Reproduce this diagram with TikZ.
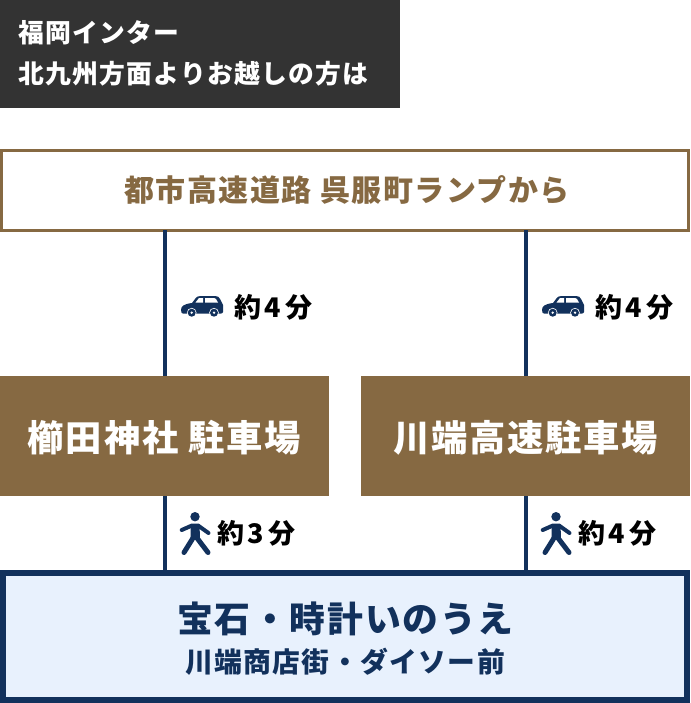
\documentclass[tikz,border=0pt]{standalone}
\usepackage{fontspec}
\setmainfont{Noto Sans CJK JP}
\newfontfamily\jpwide[LetterSpace=5]{Noto Sans CJK JP}
\newfontfamily\jptime[LetterSpace=14]{Noto Sans CJK JP}
\usetikzlibrary{calc,positioning}
\definecolor{navy}{HTML}{12315C}
\definecolor{brown}{HTML}{866942}
\definecolor{pale}{HTML}{E8F1FD}
\definecolor{dark}{HTML}{333333}
\begin{document}
\begin{tikzpicture}[x=1pt,y=-1pt,
  box/.style={inner sep=0pt,outer sep=0pt},
  park/.style={box,fill=brown,minimum width=329pt,minimum height=120pt},
  parkname/.style={inner sep=0pt,text=white,font=\jpwide\bfseries\fontsize{36.3}{44}\selectfont},
  link/.style={draw=navy,line width=4pt,xshift=1pt},
  time/.style={inner sep=0pt,anchor=west,font=\jptime\bfseries\fontsize{27}{32}\selectfont},
  carIcon/.pic={
    \fill[navy] (-21,4) .. controls (-21,0) and (-18,-2) .. (-10,-3) -- (-7,-7) .. controls (-5,-10) and (-3,-10) .. (0,-10)
      -- (13,-10) .. controls (16,-10) and (17,-9) .. (18,-7) -- (21,-1) -- (21,6) .. controls (21,7) and (20,7.5) .. (19,7.5) -- (-19,7.5) .. controls (-20,7.5) and (-21,7) .. (-21,4) -- cycle;
    \fill[white] (-6.5,-3.5) -- (-3,-8) -- (1,-8) -- (1,-3.5) -- cycle (3,-8) -- (12,-8) .. controls (13,-8) and (13,-8) .. (14,-7) -- (16,-3.5) -- (3,-3.5) -- cycle;
    \fill[white] (-10.3,6.7) circle (4.8) (12,6.7) circle (4.8);
    \fill[navy] (-10.3,6.7) circle (4) (12,6.7) circle (4);
    \fill[white] (-10.3,6.7) circle (1.3) (12,6.7) circle (1.3);
  },
  walkIcon/.pic={
    \fill[navy] (0,-17.3) circle (4.7);
    \draw[navy,line width=4pt,line cap=round,line join=round] (-13.3,-4) -- (-3,-8.5) -- (3,-8.5) -- (13.5,-1);
    \fill[navy] (-4.5,-10) -- (4.5,-10) -- (5,5) -- (-4.5,5) -- cycle;
    \draw[navy,line width=5pt,line cap=round,line join=round] (-11,18.5) -- (-2,4) (2,4) -- (13,18.5);
  }]
  \useasboundingbox (0,0) rectangle (690,703);
  % heading
  \node[box,fill=dark,minimum width=400pt,minimum height=108pt] (head) at (200,54) {};
  \node[inner sep=0pt,anchor=west,text=white,font=\jpwide\bfseries\fontsize{25.8}{41}\selectfont,align=left] (headtext) at (18,53) {福岡インター\\北九州方面よりお越しの方は};
  % start
  \node[box,fill=white,draw=brown,line width=3pt,minimum width=687pt,minimum height=79pt] (ramp) at (345,190.5) {};
  \node[inner sep=0pt,text=brown,font=\jpwide\bfseries\fontsize{30}{36}\selectfont] (ramptext) at (347,189.5) {都市高速道路 呉服町ランプから};
  % parking
  \node[park] (kushida) at (164.5,436) {};
  \node[parkname] (kushidatext) at (164.5,437.5) {櫛田神社 駐車場};
  \node[park] (kawabata) at (525.5,436) {};
  \node[parkname] (kawabatatext) at (525.5,437.5) {川端高速駐車場};
  % goal
  \node[box,fill=pale,draw=navy,line width=6pt,minimum width=684pt,minimum height=127pt] (goal) at (345,636.5) {};
  \node[inner sep=0pt,text=navy,font=\jpwide\bfseries\fontsize{35.8}{42}\selectfont] (jewel) at (345.5,619) {宝石・時計いのうえ};
  \node[inner sep=0pt,text=navy,font=\jpwide\bfseries\fontsize{27.8}{32}\selectfont] (street) at (345,661.5) {川端商店街・ダイソー前};

  \draw[link] (ramp.south -| kushida) -- (kushida.north);
  \draw[link] (ramp.south -| kawabata) -- (kawabata.north);
  \draw[link] (kushida.south) -- (goal.north -| kushida);
  \draw[link] (kawabata.south) -- (goal.north -| kawabata);

  \pic at (202,306) {carIcon};
  \node[time] (t1) at (234,307) {約4分};
  \pic at (563,306) {carIcon};
  \node[time] (t2) at (595,307) {約4分};
  \pic at (195,534) {walkIcon};
  \node[time] (t3) at (217,533) {約3分};
  \pic at (556,534) {walkIcon};
  \node[time] (t4) at (578,533) {約4分};
\end{tikzpicture}
\end{document}
